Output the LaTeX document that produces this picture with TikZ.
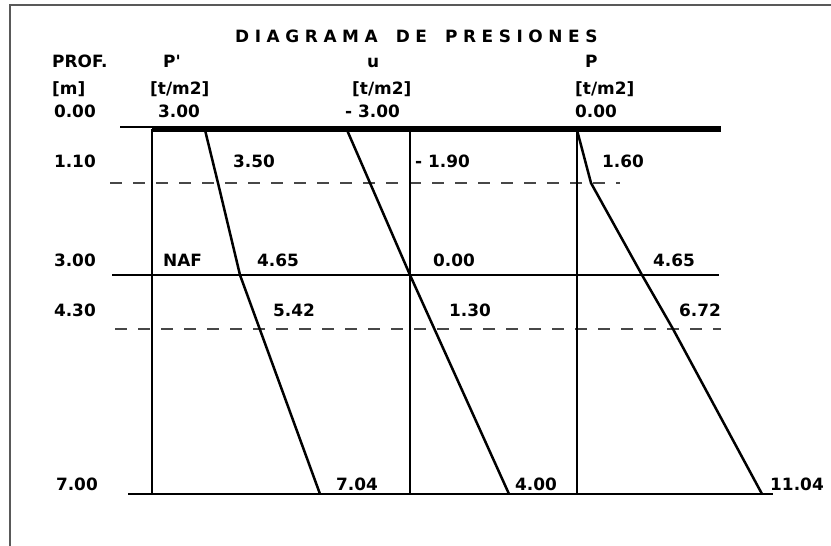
\documentclass[tikz,border=0pt]{standalone}
\usepackage{fontspec}
\setmainfont{DejaVu Sans}
\newfontfamily\titlefont{DejaVu Sans}[LetterSpace=33]
\begin{document}
\begin{tikzpicture}[x=1bp,y=-1bp,
  lbl/.style={font=\bfseries\fontsize{17}{20}\selectfont, inner sep=0pt, anchor=base west},
  lblr/.style={lbl, anchor=base east},
  frame/.style={line width=1.5bp, draw=black!65},
  axisln/.style={line width=1.5bp},
  curve/.style={line width=2.5bp, line join=round},
  dashln/.style={line width=2bp, draw=black!72, dash pattern=on 12bp off 11bp}]
\useasboundingbox (0,0) rectangle (831,546);
% frame
\coordinate (fA) at (10,546);
\coordinate (fB) at (10,5);
\coordinate (fC) at (831,5);
\draw[frame] (fA) -- (fB) -- (fC);
% title
\node[lbl] (title) at (235,43) {\titlefont\bfseries DIAGRAMA\hspace{18bp}DE\hspace{18bp}PRESIONES};
% headers
\node[lbl] (h1) at (52,68) {PROF.};
\node[lbl] (h2) at (52,95) {[m]};
\node[lblr] (d0) at (96,118) {0.00};
\node[lbl] (pp1) at (163,68) {P\textquotesingle};
\node[lbl] (pp2) at (150,95) {[t/m2]};
\node[lbl] (pp3) at (158,118) {3.00};
\node[lbl] (u1) at (367,68) {u};
\node[lbl] (u2) at (352,95) {[t/m2]};
\node[lbl] (u3) at (345,118) {- 3.00};
\node[lbl] (p1) at (585,68) {P};
\node[lbl] (p2) at (575,95) {[t/m2]};
\node[lbl] (p3) at (575,118) {0.00};
% depth labels
\node[lblr] (d1) at (96,168) {1.10};
\node[lblr] (d2) at (96,267) {3.00};
\node[lblr] (d3) at (96,317) {4.30};
\node[lblr] (d4) at (98,490) {7.00};
% value labels
\node[lbl] (v1a) at (233,168) {3.50};
\node[lbl] (v1b) at (415,168) {- 1.90};
\node[lbl] (v1c) at (602,168) {1.60};
\node[lbl] (naf) at (163,267) {NAF};
\node[lbl] (v2a) at (257,267) {4.65};
\node[lbl] (v2b) at (433,267) {0.00};
\node[lbl] (v2c) at (653,267) {4.65};
\node[lbl] (v3a) at (273,317) {5.42};
\node[lbl] (v3b) at (449,317) {1.30};
\node[lbl] (v3c) at (679,317) {6.72};
\node[lbl] (v4a) at (336,490) {7.04};
\node[lbl] (v4b) at (515,490) {4.00};
\node[lbl] (v4c) at (770,490) {11.04};
% horizontal lines
\coordinate (g0) at (120,127);
\coordinate (g1) at (152,127);
\coordinate (t1) at (152,129.5);
\coordinate (t2) at (721,129.5);
\draw[axisln] (g0) -- (g1);
\draw[line width=6bp] (t1) -- (t2);
\coordinate (da1) at (110,183);
\coordinate (da2) at (620,183);
\draw[dashln] (da1) -- (da2);
\coordinate (n1) at (112,275);
\coordinate (n2) at (719,275);
\draw[line width=2.5bp] (n1) -- (n2);
\coordinate (db1) at (115,329);
\coordinate (db2) at (721,329);
\draw[dashln] (db1) -- (db2);
\coordinate (b1) at (128,494);
\coordinate (b2) at (773,494);
\draw[line width=2bp] (b1) -- (b2);
% vertical axes
\foreach \x/\n in {152/a,410/b,577/c}{
  \coordinate (ax\n top) at (\x,129);
  \coordinate (ax\n bot) at (\x,494);
  \draw[axisln] (ax\n top) -- (ax\n bot);
}
% P' line
\coordinate (q0) at (205,130);
\coordinate (q1) at (218,183);
\coordinate (q2) at (240,275);
\coordinate (q3) at (320,494);
\draw[curve] (q0) -- (q1) -- (q2) -- (q3);
% u line
\coordinate (w0) at (347,130);
\coordinate (w1) at (410,275);
\coordinate (w2) at (509,494);
\draw[curve] (w0) -- (w1) -- (w2);
% P line
\coordinate (r0) at (577,130);
\coordinate (r1) at (591,183);
\coordinate (r2) at (642,275);
\coordinate (r3) at (673,329);
\coordinate (r4) at (762,494);
\draw[curve] (r0) -- (r1) -- (r2) -- (r3) -- (r4);
\end{tikzpicture}
\end{document}
